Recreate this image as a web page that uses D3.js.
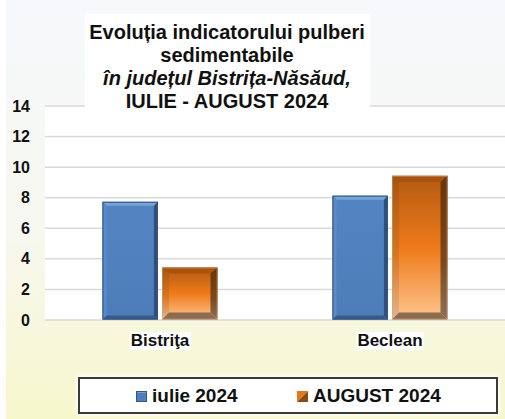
<!DOCTYPE html>
<html><head><meta charset="utf-8">
<script src="https://cdn.jsdelivr.net/npm/d3@7"></script>
<style>html,body{margin:0;padding:0;background:#fff;}svg{display:block;}</style>
</head><body>
<script>
const categories = ["Bistriţa", "Beclean"];
const seriesNames = ["iulie 2024", "AUGUST 2024"];
const iulie = [7.7, 8.1];
const august = [3.4, 9.4];
const yTicks = [0, 2, 4, 6, 8, 10, 12, 14];
const titleLines = ["Evoluția indicatorului pulberi", "sedimentabile", "în județul Bistrița-Năsăud,", "IULIE - AUGUST 2024"];

const W = 505, H = 419;
const svg = d3.select("body").append("svg").attr("width", W).attr("height", H);
const defs = svg.append("defs");

const bg = defs.append("linearGradient").attr("id","bg").attr("x1",0).attr("y1",0).attr("x2",0).attr("y2",1);
bg.append("stop").attr("offset","0%").attr("stop-color","#f6f8fc");
bg.append("stop").attr("offset","55%").attr("stop-color","#f7f8f0");
bg.append("stop").attr("offset","100%").attr("stop-color","#f7f7cc");

const og = defs.append("linearGradient").attr("id","orFace").attr("x1",0).attr("y1",0).attr("x2",0).attr("y2",1);
og.append("stop").attr("offset","0%").attr("stop-color","#b35a10");
og.append("stop").attr("offset","50%").attr("stop-color","#ee7a1a");
og.append("stop").attr("offset","100%").attr("stop-color","#ffc690");
const ol = defs.append("linearGradient").attr("id","orLeft").attr("x1",0).attr("y1",0).attr("x2",0).attr("y2",1);
ol.append("stop").attr("offset","0%").attr("stop-color","#a8540f");
ol.append("stop").attr("offset","55%").attr("stop-color","#d9761f");
ol.append("stop").attr("offset","100%").attr("stop-color","#e6b48a");
const orr = defs.append("linearGradient").attr("id","orRight").attr("x1",0).attr("y1",0).attr("x2",0).attr("y2",1);
orr.append("stop").attr("offset","0%").attr("stop-color","#693308");
orr.append("stop").attr("offset","60%").attr("stop-color","#7a4a1e");
orr.append("stop").attr("offset","100%").attr("stop-color","#8d7058");

const bf = defs.append("linearGradient").attr("id","blFace").attr("x1",0).attr("y1",0).attr("x2",0).attr("y2",1);
bf.append("stop").attr("offset","0%").attr("stop-color","#5584c2");
bf.append("stop").attr("offset","100%").attr("stop-color","#4d7db9");

const glow = defs.append("filter").attr("id","glow").attr("x","-5%").attr("y","-30%").attr("width","110%").attr("height","160%");
glow.append("feGaussianBlur").attr("in","SourceAlpha").attr("stdDeviation",2.5).attr("result","b");
glow.append("feFlood").attr("flood-color","#ffffff");
glow.append("feComposite").attr("in2","b").attr("operator","in").attr("result","g");
const fm = glow.append("feMerge"); fm.append("feMergeNode").attr("in","g"); fm.append("feMergeNode").attr("in","g"); fm.append("feMergeNode").attr("in","SourceGraphic");

// background
svg.append("rect").attr("x",6).attr("y",0).attr("width",W-6).attr("height",H).attr("fill","url(#bg)");

const y = d3.scaleLinear().domain([0,14]).range([319.5,105.5]);
const x0 = d3.scaleBand().domain(categories).range([45,505]).padding(0);
const x1 = d3.scaleBand().domain(seriesNames).range([57.5,172.5]).paddingInner(0.07);

// plot area white
svg.append("rect").attr("x",45).attr("y",y(14)).attr("width",W-45).attr("height",y(0)-y(14)).attr("fill","#ffffff");

// gridlines
const yAxis = d3.axisLeft(y).tickValues(yTicks).tickSize(-(W-45)).tickFormat(d3.format("d")).tickPadding(15);
const ga = svg.append("g").attr("transform","translate(45,0)").call(yAxis);
ga.select(".domain").remove();
ga.selectAll(".tick line").attr("stroke","#d9d9d9").attr("stroke-width",1.5);
ga.selectAll(".tick text").attr("font-family","Liberation Sans, Arial, sans-serif").attr("font-weight","bold").attr("font-size","16px").attr("fill","#111").attr("dy","0.35em");

// bars
function bevelBar(g, x, yTop, w, h, type){
  const b = type==="blue" ? 4 : 7;
  const bt = type==="blue" ? 4 : 6;
  const x2 = x+w, y2 = yTop+h;
  const bb = Math.min(b, h/3), btt = Math.min(bt, h/3);
  if(type==="blue"){
    g.append("rect").attr("x",x).attr("y",yTop).attr("width",w).attr("height",h).attr("fill","url(#blFace)");
    g.append("polygon").attr("points",[[x,yTop],[x2,yTop],[x2-bb,yTop+btt],[x+bb,yTop+btt]].join(" ")).attr("fill","#77a2da");
    g.append("polygon").attr("points",[[x,yTop],[x+bb,yTop+btt],[x+bb,y2-bb],[x,y2]].join(" ")).attr("fill","#5a8ac8");
    g.append("polygon").attr("points",[[x2,yTop],[x2,y2],[x2-bb,y2-bb],[x2-bb,yTop+btt]].join(" ")).attr("fill","#2f4f7c");
    g.append("polygon").attr("points",[[x,y2],[x2,y2],[x2-bb,y2-bb],[x+bb,y2-bb]].join(" ")).attr("fill","#365a8a");
    g.append("rect").attr("x",x+0.5).attr("y",yTop+0.5).attr("width",w-1).attr("height",h-1).attr("fill","none").attr("stroke","#34567f").attr("stroke-width",1);
  } else {
    g.append("rect").attr("x",x).attr("y",yTop).attr("width",w).attr("height",h).attr("fill","url(#orFace)");
    g.append("polygon").attr("points",[[x,yTop],[x2,yTop],[x2-bb,yTop+btt],[x+bb,yTop+btt]].join(" ")).attr("fill","#a9530e");
    g.append("polygon").attr("points",[[x,yTop],[x+bb,yTop+btt],[x+bb,y2-bb],[x,y2]].join(" ")).attr("fill","url(#orLeft)");
    g.append("polygon").attr("points",[[x2,yTop],[x2,y2],[x2-bb,y2-bb],[x2-bb,yTop+btt]].join(" ")).attr("fill","url(#orRight)");
    g.append("polygon").attr("points",[[x,y2],[x2,y2],[x2-bb,y2-bb],[x+bb,y2-bb]].join(" ")).attr("fill","#8c6c50");
    g.append("rect").attr("x",x+0.5).attr("y",yTop+0.5).attr("width",w-1).attr("height",h-1).attr("fill","none").attr("stroke","#c7a88a").attr("stroke-width",0.8).attr("stroke-opacity",0.6);
  }
}
const barsG = svg.append("g");
categories.forEach((c,i)=>{
  const vals = [iulie[i], august[i]];
  vals.forEach((v,j)=>{
    const bx = x0(c)+x1(seriesNames[j]);
    bevelBar(barsG, bx, y(v), x1.bandwidth(), y(0)-y(v), j===0?"blue":"orange");
  });
});

// category labels
const xl = svg.append("g");
categories.forEach(c=>{
  const cx = x0(c)+x0.bandwidth()/2;
  const t = xl.append("text").attr("x",cx).attr("y",340).attr("dy","0.35em").attr("text-anchor","middle")
    .attr("font-family","Liberation Sans, Arial, sans-serif").attr("font-weight","bold").attr("font-size","17px").attr("fill","#111").text(c);
  const bb = t.node().getBBox();
  xl.insert("rect","text").attr("x",bb.x-1).attr("y",bb.y+1).attr("width",bb.width+2).attr("height",bb.height-1).attr("fill","#fff");
});

// title
svg.append("rect").attr("x",85).attr("y",14).attr("width",285).attr("height",96).attr("fill","#ffffff");
const tt = svg.append("text").attr("text-anchor","middle").attr("font-family","Liberation Sans, Arial, sans-serif").attr("font-weight","bold").attr("font-size","20px").attr("fill","#111");
titleLines.forEach((l,i)=>{
  tt.append("tspan").attr("x",227).attr("y",38.5+i*23).attr("font-style", i===2?"italic":"normal").text(l);
});

// legend
const lg = svg.append("g");
lg.append("rect").attr("x",79).attr("y",378).attr("width",418).attr("height",35).attr("fill","#fff").attr("stroke","#3a3a3a").attr("stroke-width",2).attr("filter","url(#glow)");
const legX = [136, 297];
seriesNames.forEach((s,j)=>{
  const mx = legX[j], my = 391;
  if(j===0){
    lg.append("rect").attr("x",mx).attr("y",my).attr("width",11).attr("height",11).attr("fill","#4f7fbb");
    lg.append("polygon").attr("points",[[mx,my],[mx+11,my],[mx+9,my+2],[mx+2,my+2]].join(" ")).attr("fill","#79a3d9");
    lg.append("rect").attr("x",mx+0.5).attr("y",my+0.5).attr("width",10).attr("height",10).attr("fill","none").attr("stroke","#35587f").attr("stroke-width",1);
  } else {
    lg.append("polygon").attr("points",[[mx,my],[mx+11,my],[mx,my+11]].join(" ")).attr("fill","#e0781c");
    lg.append("polygon").attr("points",[[mx+11,my],[mx+11,my+11],[mx,my+11]].join(" ")).attr("fill","#8a4a14");
  }
  lg.append("text").attr("x",mx+16).attr("y",402).attr("font-family","Liberation Sans, Arial, sans-serif").attr("font-weight","bold").attr("font-size","19px").attr("fill","#111").text(s);
});
</script>
</body></html>
